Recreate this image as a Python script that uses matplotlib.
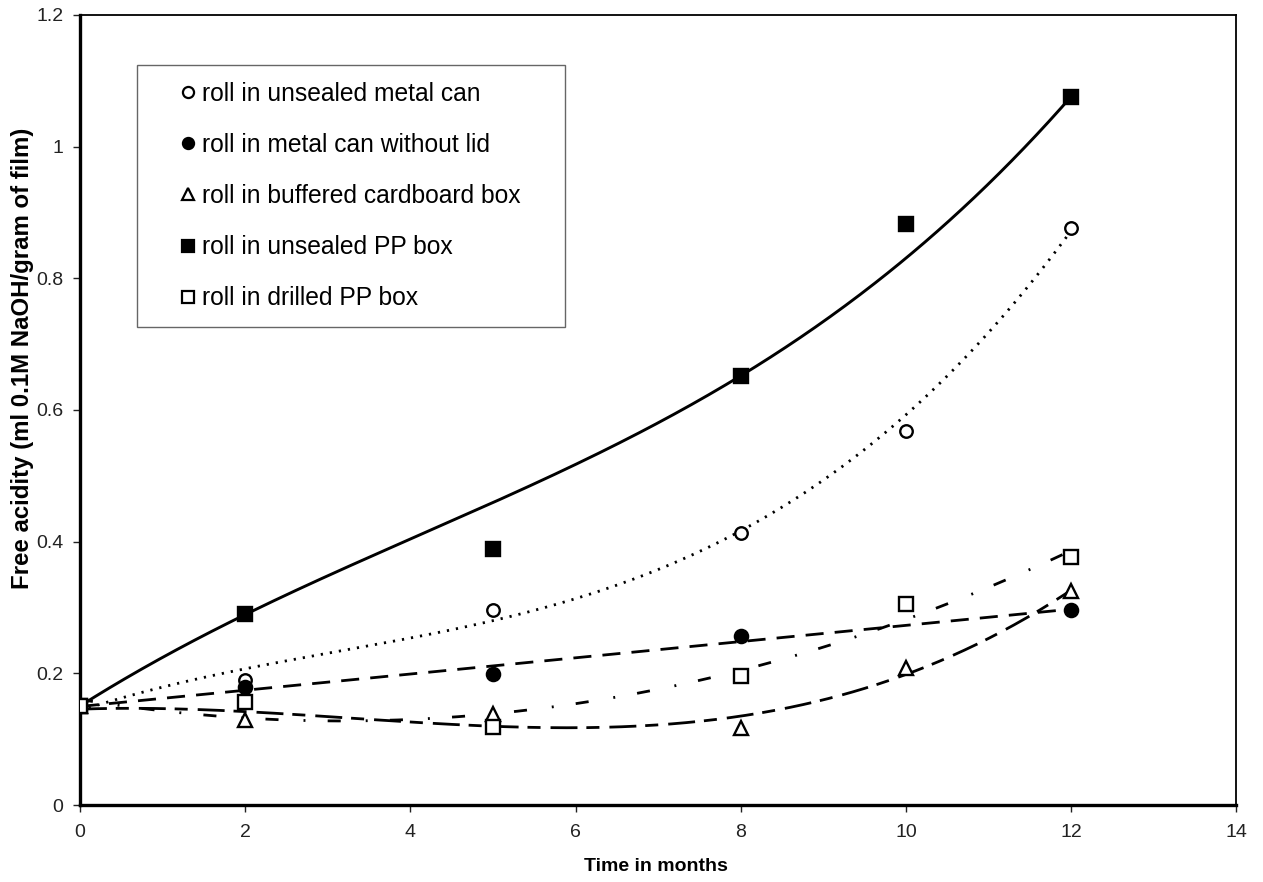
import numpy as np
import matplotlib
matplotlib.use("Agg")
import matplotlib.pyplot as plt
from matplotlib.lines import Line2D
from matplotlib.patches import Rectangle

plt.rcParams['font.family'] = ['Liberation Sans', 'DejaVu Sans']

# ---- data ----
months = [0, 2, 5, 8, 10, 12]
unsealed_pp_box = [0.15, 0.29, 0.389, 0.652, 0.883, 1.076]
unsealed_metal_can = [0.15, 0.19, 0.296, 0.413, 0.568, 0.877]
months_no_lid = [0, 2, 5, 8, 12]
metal_can_no_lid = [0.15, 0.179, 0.199, 0.257, 0.296]
buffered_cardboard = [0.15, 0.129, 0.138, 0.117, 0.208, 0.325]
drilled_pp_box = [0.15, 0.157, 0.119, 0.196, 0.305, 0.377]

labels = ["roll in unsealed metal can", "roll in metal can without lid",
          "roll in buffered cardboard box", "roll in unsealed PP box",
          "roll in drilled PP box"]

# trend-line settings (polynomial order and point weights of each fit)
deg_pp_box, w_pp_box = 3, [1, 1, 0.1, 1, 0.1, 1]
deg_metal_can, w_metal_can = 3, [1, 1, 1, 0.6, 0.6, 1]
deg_no_lid = 1
deg_cardboard = 3
deg_drilled = 3

fig = plt.figure(figsize=(12.63, 8.82), dpi=100)
ax = fig.add_axes([0.0633, 0.0873, 0.9157, 0.8957])

xs = np.linspace(0, 12, 400)

def trend(x, y, deg, w=None, **kw):
    c = np.polyfit(x, y, deg, w=w)
    ax.plot(xs, np.polyval(c, xs), color='black', **kw)

trend(months, unsealed_pp_box, deg_pp_box, w_pp_box, lw=2.1, linestyle='-')
trend(months, unsealed_metal_can, deg_metal_can, w_metal_can, lw=2.0,
      linestyle=(0, (0.8, 2.5)))
trend(months_no_lid, metal_can_no_lid, deg_no_lid, lw=2.0, linestyle=(0, (6.5, 4)))
trend(months, buffered_cardboard, deg_cardboard, lw=2.0,
      linestyle=(0, (9.7, 3.2, 4.7, 3.6)))
trend(months, drilled_pp_box, deg_drilled, lw=2.0,
      linestyle=(0, (4.7, 9, 0.7, 8)))

mew = 1.7
ax.plot(months, unsealed_metal_can, 'o', ms=9, mfc='white', mec='black', mew=mew, zorder=5)
ax.plot(months_no_lid, metal_can_no_lid, 'o', ms=9.5, mfc='black', mec='black', mew=mew, zorder=5)
ax.plot(months, buffered_cardboard, '^', ms=9.5, mfc='white', mec='black', mew=mew, zorder=5)
ax.plot(months, unsealed_pp_box, 's', ms=9.5, mfc='black', mec='black', mew=mew, zorder=5)
ax.plot(months, drilled_pp_box, 's', ms=9.5, mfc='white', mec='black', mew=mew, zorder=6)

# legend: frame drawn as its own rectangle, markers + text inside
fig.patches.append(Rectangle((137 / 1263, 1 - 327 / 882), 428 / 1263, 262 / 882,
                             transform=fig.transFigure, facecolor='white',
                             edgecolor='#666666', lw=1.0, zorder=3))
handles = [
    Line2D([], [], marker='o', ls='none', ms=8, mfc='white', mec='black', mew=1.6),
    Line2D([], [], marker='o', ls='none', ms=8, mfc='black', mec='black', mew=1.6),
    Line2D([], [], marker='^', ls='none', ms=8, mfc='white', mec='black', mew=1.6),
    Line2D([], [], marker='s', ls='none', ms=8, mfc='black', mec='black', mew=1.6),
    Line2D([], [], marker='s', ls='none', ms=8, mfc='white', mec='black', mew=1.6),
]
leg = fig.legend(handles, labels, loc='upper left',
                 bbox_to_anchor=(181 / 1263, 1 - 82 / 882),
                 bbox_transform=fig.transFigure,
                 fontsize=17.7, frameon=False,
                 handlelength=0.6, handletextpad=0.25, labelspacing=1.1,
                 borderpad=0, borderaxespad=0)
leg.set_zorder(4)

ax.set_xlim(0, 14)
ax.set_ylim(0, 1.2)
ax.set_xticks(range(0, 15, 2))
ax.set_yticks([0, 0.2, 0.4, 0.6, 0.8, 1.0, 1.2])
ax.set_yticklabels(['0', '0.2', '0.4', '0.6', '0.8', '1', '1.2'])
ax.tick_params(labelsize=14, length=5, width=1, direction='out', colors='#222222')
ax.tick_params(axis='x', pad=9)
ax.tick_params(axis='y', pad=7)
ax.set_xlabel('Time in months', fontsize=14, fontweight='bold')
ax.xaxis.set_label_coords(0.498, -0.067)
ax.set_ylabel('Free acidity (ml 0.1M NaOH/gram of film)', fontsize=17.3, fontweight='bold')
ax.yaxis.set_label_coords(-0.04, 0.565)
for s in ['left', 'bottom']:
    ax.spines[s].set_linewidth(2.4)
for s in ['top', 'right']:
    ax.spines[s].set_linewidth(1.3)

fig.savefig('out.png', dpi=100)
